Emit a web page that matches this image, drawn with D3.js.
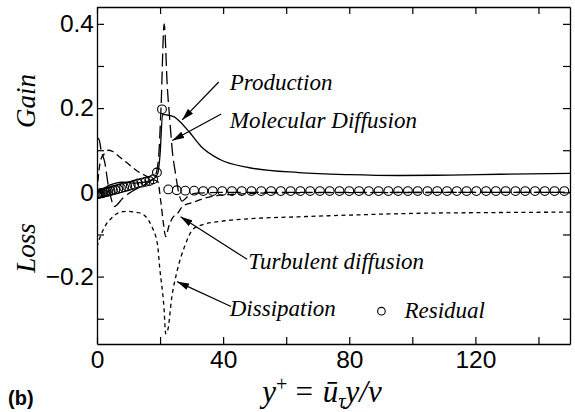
<!DOCTYPE html>
<html><head><meta charset="utf-8">
<script src="https://cdn.jsdelivr.net/npm/d3@7"></script>
<style>
body{margin:0;background:#fff;}
svg{display:block;}
.tick text{font-family:"Liberation Sans",Arial,sans-serif;font-size:24.5px;fill:#000;}
</style></head>
<body>
<svg id="chart" width="575" height="412"></svg>
<script>
// ---- data ----
const prodX = [0,2,4,6,8,10,12,14,16,18,19.3,20,20.8,22,24.5,26,29.4,33,39,48,64,80,96,112,128,150];
const prodY = [0,0.008,0.017,0.022,0.024,0.023,0.022,0.023,0.026,0.032,0.045,0.09,0.185,0.184,0.179,0.17,0.142,0.109,0.078,0.059,0.047,0.042,0.040,0.041,0.043,0.045];

const molX = [0,0.7,1.3,2.5,3.5,4.5,5.3,6.3,8,10,13,16,18.5,19.5,20.3,21.3,22.3,23.1,24,24.7,26.3,27,28,29.4,32,40,60,150];
const molY = [0.13,0.125,0.1,0.07,0.02,-0.015,-0.034,-0.03,-0.015,-0.003,0.01,0.022,0.04,0.08,0.2,0.40,0.25,0.17,0.09,0.054,-0.012,-0.021,-0.015,-0.006,-0.002,0,0,0];

const turbX = [0,0.6,1.3,2.2,3.5,5,7,9.5,12.5,15.8,18,19.3,20.2,21,21.8,22.8,24,25.3,27.2,30.4,34,38,45,60,150];
const turbY = [0,0.05,0.08,0.09,0.1,0.097,0.085,0.07,0.052,0.038,0.03,0.025,-0.02,-0.07,-0.105,-0.08,-0.06,-0.052,-0.033,-0.024,-0.014,-0.008,-0.004,-0.001,0];

const dissX = [0,0.8,1.6,3,4.5,6,8,10,12,14,15.5,17.3,19.2,19.9,21.2,21.8,22.5,23.7,25.3,27.8,30.4,33,40,50,64,80,100,125,150];
const dissY = [-0.13,-0.11,-0.095,-0.075,-0.062,-0.052,-0.046,-0.045,-0.047,-0.05,-0.058,-0.08,-0.125,-0.18,-0.27,-0.336,-0.325,-0.25,-0.19,-0.128,-0.088,-0.078,-0.068,-0.062,-0.058,-0.054,-0.05,-0.048,-0.047];

const resX = [0,0.3,0.6,0.9,1.2,1.6,2.0,2.5,3.0,3.6,4.3,5.0,5.8,6.7,7.6,8.6,9.6,10.7,11.8,13.0,14.2,15.4,16.6,17.8,19.0,20.6,
  22.6,25.3,28.0,30.8,33.7,36.7,39.7,42.8,45.9,49.0,52.1,55.2,58.3,61.4,64.5,67.6,70.7,73.8,76.9,80.0,83.1,86.2,89.3,92.4,95.5,98.6,101.7,104.8,107.9,111.0,114.1,117.2,120.3,123.4,126.5,129.6,132.7,135.8,138.9,142.0,145.1,148.2];
const resY = [-0.004,-0.004,-0.003,-0.003,-0.002,-0.002,-0.001,0,0.001,0.002,0.003,0.005,0.006,0.008,0.010,0.012,0.014,0.016,0.018,0.021,0.023,0.025,0.027,0.031,0.047,0.197,
  0.007,0.005,0.004,0.004,0.003,0.003,0.003,0.003,0.003,0.003,0.003,0.003,0.003,0.003,0.003,0.003,0.003,0.003,0.003,0.003,0.003,0.003,0.003,0.003,0.003,0.003,0.003,0.003,0.003,0.003,0.003,0.003,0.003,0.003,0.003,0.003,0.003,0.003,0.003,0.003,0.003,0.003];

const xTicks = [0,20,40,60,80,100,120,140];
const xTickLabels = ["0","","40","","80","","120",""];
const yTicks = [-0.3,-0.2,-0.1,0,0.1,0.2,0.3,0.4];
const yTickLabels = ["","\u22120.2","","0","","0.2","","0.4"];

// annotations
const annLabels = ["Production","Molecular Diffusion","Turbulent diffusion","Dissipation"];
const annText = [[42.1,0.244],[42.1,0.152],[48.0,-0.182],[42.1,-0.294]];
const annArrow = [[38.6,0.262,27.0,0.172],[39.4,0.186,23.9,0.123],[47.6,-0.159,26.5,-0.058],[42.5,-0.271,25.4,-0.212]];
const residualKey = [90.2,-0.282];

// ---- layout ----
const SERIF = "'Liberation Serif','Times New Roman',Times,serif";
const svg = d3.select("#chart");
const L=97,R=570,T=7,B=344;
const x = d3.scaleLinear().domain([0,150]).range([L,R]);
const y = d3.scaleLinear().domain([-0.36,0.44]).range([B,T]);

svg.append("defs").append("marker").attr("id","ah")
  .attr("viewBox","0 0 12 8").attr("refX",12).attr("refY",4)
  .attr("markerWidth",12).attr("markerHeight",8).attr("markerUnits","userSpaceOnUse")
  .attr("orient","auto").append("path").attr("d","M0,0.5 L12,4 L0,7.5 Z").attr("fill","#000");

const plot = svg.append("g");
plot.append("clipPath").attr("id","clip").append("rect").attr("x",L).attr("y",T).attr("width",R-L).attr("height",B-T);
const g = plot.append("g").attr("clip-path","url(#clip)");

const line = d3.line().x(d=>x(d[0])).y(d=>y(d[1])).curve(d3.curveMonotoneX);
function series(xs,ys,dash){
  g.append("path").datum(xs.map((v,i)=>[v,ys[i]])).attr("d",line)
   .attr("fill","none").attr("stroke","#000").attr("stroke-width",1.3)
   .attr("stroke-dasharray",dash);
}
series(dissX,dissY,"4,3.5");
series(turbX,turbY,"7,4");
series(molX,molY,"13,5");
series(prodX,prodY,null);

g.selectAll("circle.res").data(resX.map((v,i)=>[v,resY[i]])).enter().append("circle")
  .attr("class","res").attr("cx",d=>x(d[0])).attr("cy",d=>y(d[1])).attr("r",4.4)
  .attr("fill","none").attr("stroke","#000").attr("stroke-width",1.1);

// axes (inward ticks, all four sides)
function styleAxis(sel){ sel.selectAll("line").attr("stroke","#000").attr("stroke-width",1.2); sel.select(".domain").attr("stroke","#000").attr("stroke-width",1.3); }
const ax1 = svg.append("g").attr("transform",`translate(0,${B})`)
  .call(d3.axisBottom(x).tickValues(xTicks).tickSizeInner(-7).tickSizeOuter(0).tickPadding(7).tickFormat((d,i)=>xTickLabels[i]));
styleAxis(ax1);
const ax2 = svg.append("g").attr("transform",`translate(0,${T})`)
  .call(d3.axisTop(x).tickValues(xTicks).tickSizeInner(-7).tickSizeOuter(0).tickFormat(""));
styleAxis(ax2);
const ax3 = svg.append("g").attr("transform",`translate(${L},0)`)
  .call(d3.axisLeft(y).tickValues(yTicks).tickSizeInner(-7).tickSizeOuter(0).tickPadding(3).tickFormat((d,i)=>yTickLabels[i]));
styleAxis(ax3);
const ax4 = svg.append("g").attr("transform",`translate(${R},0)`)
  .call(d3.axisRight(y).tickValues(yTicks).tickSizeInner(-7).tickSizeOuter(0).tickFormat(""));
styleAxis(ax4);
svg.selectAll(".tick text").attr("fill","#000");

// annotations
annLabels.forEach((t,i)=>{
  svg.append("text").attr("font-family",SERIF).attr("font-style","italic")
    .attr("x",x(annText[i][0])).attr("y",y(annText[i][1]))
    .attr("font-size",23).text(t);
  const a = annArrow[i];
  svg.append("line").attr("x1",x(a[0])).attr("y1",y(a[1])).attr("x2",x(a[2])).attr("y2",y(a[3]))
    .attr("stroke","#000").attr("stroke-width",1.2).attr("marker-end","url(#ah)");
});
svg.append("circle").attr("cx",x(residualKey[0])).attr("cy",y(residualKey[1])).attr("r",3.8)
  .attr("fill","none").attr("stroke","#000").attr("stroke-width",1.1);
svg.append("text").attr("font-family",SERIF).attr("font-style","italic")
  .attr("x",x(residualKey[0])+23).attr("y",y(residualKey[1])+7)
  .attr("font-size",23).text("Residual");

// axis titles
svg.append("text").attr("font-family",SERIF).attr("font-style","italic").attr("font-size",27).attr("text-anchor","middle")
  .attr("transform","translate(35,101) rotate(-90)").text("Gain");
svg.append("text").attr("font-family",SERIF).attr("font-style","italic").attr("font-size",27).attr("text-anchor","middle")
  .attr("transform","translate(35,248) rotate(-90)").text("Loss");

const xl = svg.append("text").attr("font-family",SERIF)
  .attr("font-size",31).attr("text-anchor","middle").attr("x",322).attr("y",402);
xl.append("tspan").attr("font-style","italic").text("y");
xl.append("tspan").attr("font-size",20).attr("dy",-11).text("+");
xl.append("tspan").attr("dy",11).attr("dx",8).text("=");
xl.append("tspan").attr("font-style","italic").attr("dx",10).text("\u016B");
xl.append("tspan").attr("font-style","italic").attr("font-size",20).attr("dy",6).text("\u03C4");
xl.append("tspan").attr("font-style","italic").attr("dy",-6).text("y/\u03BD");

svg.append("text").attr("x",8).attr("y",405).attr("font-family","'Liberation Sans',Arial,sans-serif")
  .attr("font-weight","bold").attr("font-size",20).text("(b)");
</script>
</body></html>
